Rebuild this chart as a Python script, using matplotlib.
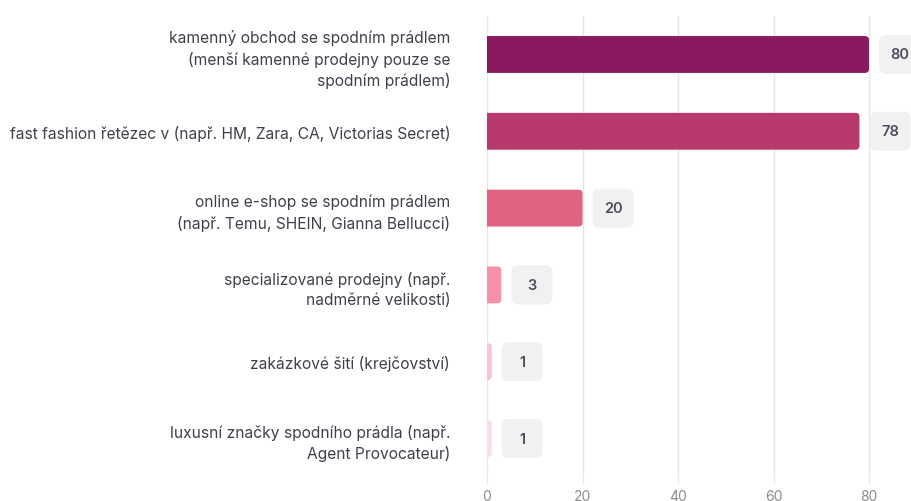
import matplotlib.pyplot as plt
import matplotlib.transforms as mtransforms
from matplotlib.patches import FancyBboxPatch

plt.rcParams['font.family'] = ['Inter', 'DejaVu Sans']

categories = [
    "kamenný obchod se spodním prádlem\n(menší kamenné prodejny pouze se\nspodním prádlem)",
    "fast fashion řetězec v (např. HM, Zara, CA, Victorias Secret)",
    "online e-shop se spodním prádlem\n(např. Temu, SHEIN, Gianna Bellucci)",
    "specializované prodejny (např.\nnadměrné velikosti)",
    "zakázkové šití (krejčovství)",
    "luxusní značky spodního prádla (např.\nAgent Provocateur)",
]
values = [80, 78, 20, 3, 1, 1]
colors = ["#8a1a5f", "#b8396b", "#e0637f", "#f592aa", "#f8c3d2", "#fbdde6"]
xticks = [0, 20, 40, 60, 80]

fig = plt.figure(figsize=(9.12, 5.02), dpi=100)
ax = fig.add_axes([0.534, 0.048, 0.466, 0.918])

ax.set_xlim(0, 89)
ax.set_ylim(len(values) - 0.5, -0.5)

bar_h = 0.48
r = 0.85  # rounding in x units
aspect = (1 / 77) / (1 / 4.775)
for i, (v, c) in enumerate(zip(values, colors)):
    # start a bit left of 0 so only the right end looks rounded
    p = FancyBboxPatch((-2, i - bar_h / 2), v + 2, bar_h,
                       boxstyle="round,pad=0,rounding_size=%f" % r,
                       mutation_aspect=aspect, fc=c, ec="none", zorder=3)
    ax.add_patch(p)

    # value badge
    trans = fig.dpi_scale_trans + mtransforms.ScaledTranslation(v, i, ax.transData)
    badge = FancyBboxPatch((0.10, -0.195), 0.41, 0.39,
                           boxstyle="round,pad=0,rounding_size=0.07",
                           transform=trans, fc="#f1f1f2", ec="none",
                           clip_on=False, zorder=3)
    ax.add_artist(badge)
    ax.annotate(str(v), (v, i), xytext=((0.10 + 0.205) * 72, 0),
                textcoords="offset points", ha="center", va="center",
                fontsize=10.5, fontweight="semibold", color="#4b4b5c",
                zorder=4, annotation_clip=False)

ax.set_yticks(range(len(categories)))
ax.set_yticklabels(categories, fontsize=11.2, color="#40404c", linespacing=1.42)
ax.tick_params(axis="y", length=0, pad=26.5)
ax.set_xticks(xticks)
ax.tick_params(axis="x", length=4, color="#e3e3e8", labelcolor="#8c8c8c",
               labelsize=10, pad=4.5)
ax.grid(axis="x", color="#e6e6ea", linewidth=1, zorder=0)
ax.set_axisbelow(True)
for s in ax.spines.values():
    s.set_visible(False)

fig.savefig("out.png", dpi=100)
